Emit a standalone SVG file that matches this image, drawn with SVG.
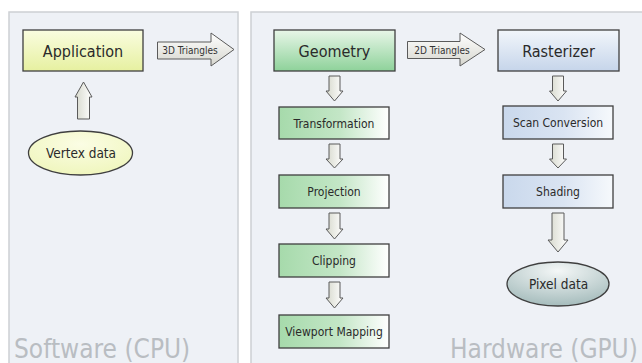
<svg xmlns="http://www.w3.org/2000/svg" width="642" height="363" viewBox="0 0 642 363">
<defs>
<linearGradient id="gYellow" x1="0" y1="0" x2="0" y2="1"><stop offset="0" stop-color="#fafde0"/><stop offset="1" stop-color="#e6f0a0"/></linearGradient>
<linearGradient id="gGreen" x1="0" y1="0" x2="0" y2="1"><stop offset="0" stop-color="#e8f6e8"/><stop offset="1" stop-color="#8ed29a"/></linearGradient>
<linearGradient id="gBlue" x1="0" y1="0" x2="0" y2="1"><stop offset="0" stop-color="#f2f6fb"/><stop offset="1" stop-color="#c6d5ea"/></linearGradient>
<linearGradient id="gGreenH" x1="0" y1="0" x2="1" y2="0"><stop offset="0" stop-color="#a6daab"/><stop offset="0.55" stop-color="#c3e6c6"/><stop offset="1" stop-color="#ffffff"/></linearGradient>
<linearGradient id="gBlueH" x1="0" y1="0" x2="1" y2="0"><stop offset="0" stop-color="#c9d8ec"/><stop offset="0.55" stop-color="#dae4f2"/><stop offset="1" stop-color="#f6f9fc"/></linearGradient>
<linearGradient id="gArrowV" x1="0" y1="0" x2="1" y2="0"><stop offset="0" stop-color="#d6d8cc"/><stop offset="1" stop-color="#ffffff"/></linearGradient>
<linearGradient id="gArrowH" x1="0" y1="0" x2="0" y2="1"><stop offset="0" stop-color="#ffffff"/><stop offset="1" stop-color="#d6d6ce"/></linearGradient>
<radialGradient id="gPixel" cx="0.5" cy="0.2" r="0.8"><stop offset="0" stop-color="#f4f7f7"/><stop offset="1" stop-color="#a5bcbc"/></radialGradient>
<radialGradient id="gVertex" cx="0.5" cy="0.3" r="0.8"><stop offset="0" stop-color="#fbfde4"/><stop offset="1" stop-color="#eef5b8"/></radialGradient>
</defs>
<style>
.panel{fill:#eef1f6;stroke:#cdd0d4;stroke-width:1.5}
.box{stroke:#3f3f3f;stroke-width:1.3}
.arrow{stroke:#5a5a5a;stroke-width:1;stroke-linejoin:miter}
text{font-family:'DejaVu Sans Condensed','DejaVu Sans',sans-serif;font-stretch:condensed;fill:#2a2a2a;text-anchor:middle}
.big{font-size:16px}
.small{font-size:12px}
.tiny{font-size:10px;fill:#333}
.ell{font-size:13.5px}
.title{font-size:26px;fill:#b9bdc2;text-anchor:start}
</style>
<g id="panel-software"><rect class="panel" x="9" y="12" width="229" height="360"/><text class="title" x="14" y="358">Software (CPU)</text></g>
<g id="panel-hardware"><rect class="panel" x="251" y="12" width="400" height="360"/><text class="title" x="450" y="358">Hardware (GPU)</text></g>
<g id="connectors">
<path class="arrow" fill="url(#gArrowH)" d="M157.5,42 H211 V33 L234,49.5 L211,66 V59 H157.5 Z"/>
<path class="arrow" fill="url(#gArrowH)" d="M407.5,41.5 H460 V33 L485,49.5 L460,66 V58.5 H407.5 Z"/>
<path class="arrow" fill="url(#gArrowV)" d="M77.5,119 V97 H75 L83.5,82 L92,97 H89.5 V119 Z"/>
<path class="arrow" fill="url(#gArrowV)" d="M329,76 V91 H326 L334.5,101 L343,91 H340 V76 Z"/>
<path class="arrow" fill="url(#gArrowV)" d="M329,144 V159 H326 L334.5,168 L343,159 H340 V144 Z"/>
<path class="arrow" fill="url(#gArrowV)" d="M329,213 V229 H326 L334.5,239 L343,229 H340 V213 Z"/>
<path class="arrow" fill="url(#gArrowV)" d="M329,282 V298 H326 L334.5,308 L343,298 H340 V282 Z"/>
<path class="arrow" fill="url(#gArrowV)" d="M552.5,76 V91 H549.5 L558,101 L566.5,91 H563.5 V76 Z"/>
<path class="arrow" fill="url(#gArrowV)" d="M552.5,144 V159 H549.5 L558,168 L566.5,159 H563.5 V144 Z"/>
<path class="arrow" fill="url(#gArrowV)" d="M552,213 V240 H548 L558,252 L568,240 H564 V213 Z"/>
<text class="tiny" x="190" y="53.5">3D Triangles</text>
<text class="tiny" x="442" y="53.5">2D Triangles</text>
</g>
<g id="application"><rect class="box" x="23" y="30" width="120" height="41" fill="url(#gYellow)"/><text class="big" x="83" y="56.5">Application</text></g>
<g id="vertex-data"><ellipse class="box" cx="80.5" cy="153" rx="52" ry="22" fill="url(#gVertex)"/><text class="ell" x="81" y="158">Vertex data</text></g>
<g id="geometry"><rect class="box" x="274" y="30" width="121" height="41" fill="url(#gGreen)"/><text class="big" x="334.5" y="56.5">Geometry</text></g>
<g id="transformation"><rect class="box" x="279" y="107" width="110" height="32" fill="url(#gGreenH)"/><text class="small" x="334" y="127.5">Transformation</text></g>
<g id="projection"><rect class="box" x="279" y="175" width="110" height="33" fill="url(#gGreenH)"/><text class="small" x="334" y="195.5">Projection</text></g>
<g id="clipping"><rect class="box" x="279" y="244" width="110" height="33" fill="url(#gGreenH)"/><text class="small" x="334" y="264.5">Clipping</text></g>
<g id="viewport-mapping"><rect class="box" x="279" y="315" width="110" height="33" fill="url(#gGreenH)"/><text class="small" x="334" y="335.5">Viewport Mapping</text></g>
<g id="rasterizer"><rect class="box" x="498" y="30" width="121" height="41" fill="url(#gBlue)"/><text class="big" x="558.5" y="56.5">Rasterizer</text></g>
<g id="scan-conversion"><rect class="box" x="503" y="106" width="110" height="33" fill="url(#gBlueH)"/><text class="small" x="558" y="127">Scan Conversion</text></g>
<g id="shading"><rect class="box" x="503" y="175" width="110" height="33" fill="url(#gBlueH)"/><text class="small" x="558" y="195.5">Shading</text></g>
<g id="pixel-data"><ellipse class="box" cx="558" cy="284" rx="51" ry="22" fill="url(#gPixel)"/><text class="ell" x="558.5" y="289">Pixel data</text></g>
</svg>
